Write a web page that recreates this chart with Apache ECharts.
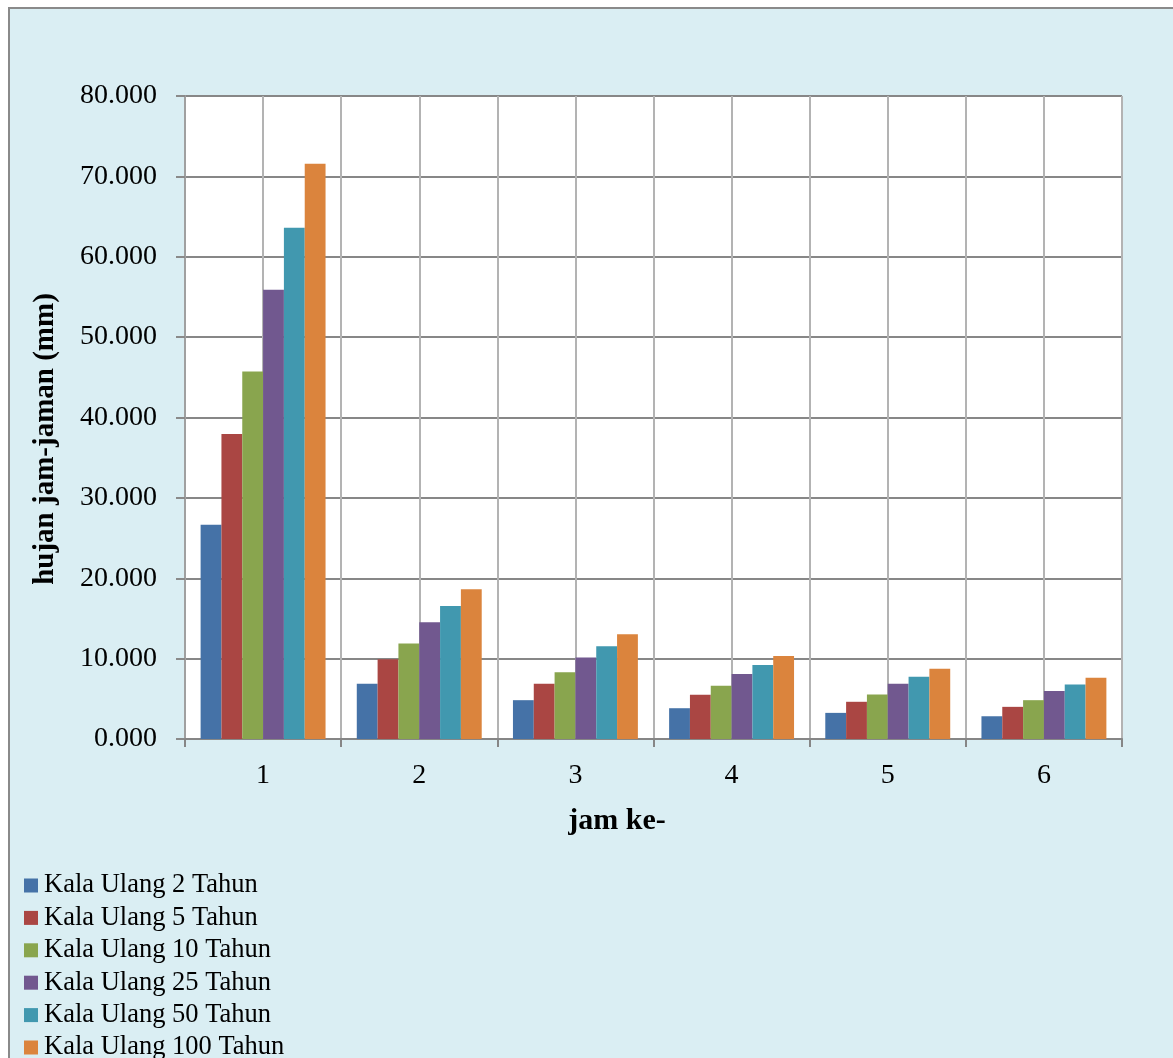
<!DOCTYPE html>
<html>
<head>
<meta charset="utf-8">
<script src="https://cdn.jsdelivr.net/npm/echarts@6/dist/echarts.min.js"></script>
<style>
  html, body { margin: 0; padding: 0; background: #ffffff; overflow: hidden; }
  #frame { position: absolute; left: 8px; top: 7px; width: 1300px; height: 1200px;
           border: 2px solid #8a8a8a; background: #DAEEF3; }
  #chart { position: absolute; left: 0; top: 0; width: 1173px; height: 1100px; }
</style>
</head>
<body>
<div id="frame"></div>
<div id="chart"></div>
<script>
const categories = ['1', '2', '3', '4', '5', '6'];
const seriesNames = ['Kala Ulang 2 Tahun', 'Kala Ulang 5 Tahun', 'Kala Ulang 10 Tahun',
                     'Kala Ulang 25 Tahun', 'Kala Ulang 50 Tahun', 'Kala Ulang 100 Tahun'];
const kalaUlang2   = [26.67, 6.88, 4.83, 3.83, 3.25, 2.83];
const kalaUlang5   = [37.95, 9.92, 6.88, 5.50, 4.63, 4.00];
const kalaUlang10  = [45.71, 11.88, 8.29, 6.63, 5.54, 4.83];
const kalaUlang25  = [55.90, 14.54, 10.13, 8.08, 6.88, 5.96];
const kalaUlang50  = [63.62, 16.54, 11.54, 9.21, 7.75, 6.79];
const kalaUlang100 = [71.57, 18.63, 13.04, 10.33, 8.75, 7.63];
const seriesValues = [kalaUlang2, kalaUlang5, kalaUlang10, kalaUlang25, kalaUlang50, kalaUlang100];
const colors = ['#4572A7', '#AA4643', '#89A54E', '#71588F', '#4198AF', '#DB843D'];
const yTitle = 'hujan jam-jaman (mm)';
const xTitle = 'jam ke-';

const FONT = '"Liberation Serif", "Times New Roman", serif';
const chart = echarts.init(document.getElementById('chart'), null, { renderer: 'canvas' });

chart.setOption({
  backgroundColor: 'transparent',
  animation: false,
  color: colors,
  grid: { left: 185, right: 51, top: 96, bottom: 361, backgroundColor: '#ffffff', show: true, borderWidth: 0 },
  legend: {
    orient: 'vertical',
    left: 24, top: 872, padding: 0,
    itemWidth: 14, itemHeight: 14, itemGap: 5.4,
    icon: 'rect',
    textStyle: { fontFamily: FONT, fontSize: 26.5, color: '#000', padding: [0, 0, 0, 1] },
    data: seriesNames
  },
  xAxis: [
    {
      type: 'category', data: categories, boundaryGap: true,
      axisLine: { show: true, lineStyle: { color: '#868686', width: 2 } },
      axisTick: { show: true, length: 8, interval: 0, lineStyle: { color: '#868686', width: 2 } },
      axisLabel: { fontFamily: FONT, fontSize: 28, color: '#000', margin: 23, interval: 0 },
      splitLine: { show: false }
    },
    {
      type: 'value', min: 0, max: 12, interval: 1, position: 'bottom',
      axisLine: { show: false }, axisTick: { show: false }, axisLabel: { show: false },
      splitLine: { show: true, lineStyle: { color: '#b3b3b3', width: 2 } }
    }
  ],
  yAxis: {
    type: 'value', min: 0, max: 80, interval: 10,
    axisLine: { show: true, lineStyle: { color: '#a0a0a0', width: 2 } },
    axisTick: { show: true, length: 9, lineStyle: { color: '#8a8a8a', width: 2 } },
    axisLabel: { fontFamily: FONT, fontSize: 28, color: '#000', margin: 28,
                 formatter: v => v.toFixed(3) },
    splitLine: { show: true, lineStyle: { color: '#878787', width: 2 } }
  },
  graphic: [
    { type: 'text', x: 46, y: 439, rotation: Math.PI / 2,
      style: { text: yTitle, fontFamily: FONT, fontSize: 29, fontWeight: 'bold', fill: '#000',
               align: 'center', verticalAlign: 'middle' } },
    { type: 'text', x: 617, y: 821,
      style: { text: xTitle, fontFamily: FONT, fontSize: 30, fontWeight: 'bold', fill: '#000',
               align: 'center', verticalAlign: 'middle' } }
  ],
  series: seriesNames.map((name, i) => ({
    name, type: 'bar', xAxisIndex: 0, yAxisIndex: 0,
    data: seriesValues[i],
    barGap: '0%', barCategoryGap: '20%',
    itemStyle: { color: colors[i] }
  }))
});
</script>
</body>
</html>
